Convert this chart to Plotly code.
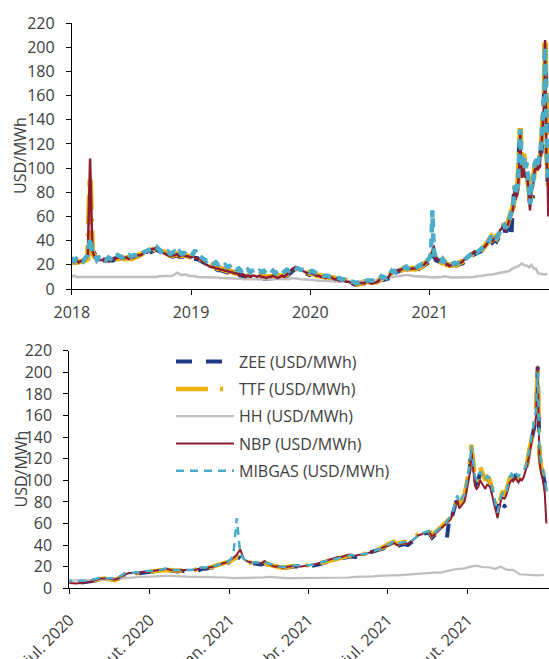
import pandas as pd
import plotly.graph_objects as go

# ---------------- date grids ----------------
dates_a = pd.date_range("2018-01-01", "2020-06-29", freq="7D")      # weekly
dates_b = pd.date_range("2020-07-01", periods=107, freq="4D")       # every 4 days
dates_c = pd.date_range("2021-09-01", "2021-12-30", freq="2D")      # every 2 days
gas_dates = list(dates_a) + list(dates_b) + list(dates_c)
hh_dates = list(pd.date_range("2018-01-01", periods=209, freq="7D"))

# ---------------- TTF ----------------
ttf_2018 = [22,22,23,22,22, 23,24,25,93, 30,27,25,24, 24,25,24,23,24, 25,26,25,26, 26,25,26,26,
            25,26,27,27,28, 29,30,31,32, 32,33,34,33, 32,30,29,28,28, 28,29,29,28, 28,29,28,27,27]
ttf_2019 = [27,26,26,25, 24,22,21,20, 19,18,18,17, 17,16,16,15,15, 14,14,13,13, 12,12,11,11,
            11,11,12,11,11, 11,10,10,10, 11,11,10,10,11, 11,11,12,14, 16,17,17,17, 16,15,14,14,13]
ttf_2020a = [13,12,12,11, 11,10,10,10, 10,9,9,8,8, 8,7,7,6, 6,5,5,4, 5,5,6,6,6]
ttf_b = [5.5,5,5,5.5,5.5,6,6.5,7,
         8,9,9,8.5,8,7.5,9,11,
         13,14,14,13.5,14,15,15,
         15,15.5,16,16.5,17,17.5,17,16.5,
         16,16.5,17,16.5,16.5,17,18,18.5,
         18,19,19.5,20,21,22,23,
         25,27,29,28,25,24,24,23,
         23,22,24,22,21,20,20,
         19,19.5,20,20.5,21,20,20.5,21,
         21,21.5,22,23,24,25,26,
         27,28,28.5,29,30,30,29.5,30.5,
         31,32,33,34,35,36,38,40,
         42,43,41,42,43,42,44,
         47,50,51,53,54,49,52,55]
ttf_c = [57,58,60,62,63,65,68,73,80,85,78,80,84,86,94,
         104,112,133,115,102,98,100,112,108,104,100,103,102,98,90,84,
         78,74,80,86,90,88,90,96,102,104,103,106,104,101,104,
         104,106,110,116,126,134,140,150,162,204,125,112,108,100,84]

# ---------------- NBP ----------------
nbp_2018 = [23,22,24,22,23, 24,25,27,108, 32,26,25,24, 24,24,25,23,24, 25,25,26,26, 25,26,26,25,
            26,26,27,28,28, 29,30,30,32, 33,33,34,32, 31,30,29,28,27, 28,28,29,27, 28,28,27,27,26]
nbp_2019 = [27,26,25,25, 23,22,20,19, 18,18,17,17, 16,16,15,15,14, 14,13,13,12, 11,12,10,11,
            10,11,11,10,11, 10,10,9,10, 10,11,10,9,10, 11,10,12,14, 15,17,18,17, 16,15,14,13,13]
nbp_2020a = [13,12,11,11, 10,10,9,10, 10,9,8,8,7, 7,7,6,6, 5,4,4,4, 5,5,5,6,6]
nbp_b = [5,4.5,4.5,5,5,5.5,6,7,
         8,9,9,9,8.5,8,9,11,
         13,14,14.5,14,14,15,15,
         15,16,16.5,17,17.5,18,17,16.5,
         16.5,17,17,17,16.5,17,18,19,
         18.5,19,20,20.5,22,23,24,
         26,28,31,36,27,25,24,24,
         24,23,25,23,21,20,20.5,
         19,19.5,20,20,21,20,20.5,21.5,
         21.5,22,22.5,24,25,26,26.5,
         27.5,29,29,30,31,31,30,31,
         31,32,33,34,35,36,38,39,
         40,42,40,41,42,41,43,
         46,49,50,52,53,48,51,54]
nbp_c = [56,57,59,61,62,64,67,72,78,82,74,76,79,80,88,
         98,106,128,108,95,92,94,100,97,95,92,96,95,93,84,78,
         72,65,74,82,84,83,86,92,98,100,99,102,100,98,101,
         100,103,108,114,122,132,142,152,158,206,118,106,100,90,60]

# ---------------- MIBGAS ----------------
mib_2018 = [26,23,25,24,25, 23,26,28,42, 30,29,24,26, 25,26,24,26,25, 27,26,28,27, 26,28,27,28,
            27,28,28,29,29, 30,31,32,33, 33,34,35,33, 31,32,30,31,29, 30,31,29,31, 29,30,29,28,30]
mib_2019 = [29,32,28,27, 26,25,23,24, 22,21,22,20, 21,19,20,18,19, 17,18,16,17, 15,16,14,16,
            14,15,16,14,15, 14,15,13,14, 13,15,13,14,15, 13,15,16,15, 16,18,17,17, 16,16,15,15,14]
mib_2020a = [15,14,13,12, 12,11,11,11, 10,10,9,9,9, 8,8,7,7, 6,6,5,5, 6,6,6,7,7]
mib_b = [7,6.5,7,6.5,7,7,7.5,8,
         9,10.5,10,9,9.5,9,10,12,
         14,15,14,15,14.5,15,16,
         16,16,17,17,18,18.5,17,17,
         17,17,18,17,17,18,19,19.5,
         19,20.5,20,21,22,23,24,
         26,30,65,32,27,25,24,24,
         24,23,24.5,23,22,21,20.5,
         20,20,21,21,21.5,21,21,21.5,
         21.5,22,23,24,24.5,25.5,26,
         27,28,29,29.5,30,31,30,31,
         31.5,32,33,34,35,36,37.5,40,
         41,44,41.5,42,43,42,44,
         46,49,51,52,53,50,52,55]
mib_c = [57,58,60,62,64,66,69,74,82,86,79,81,85,86,96,
         105,114,132,118,104,100,102,108,106,103,100,104,103,100,92,86,
         76,70,78,85,88,86,89,95,103,106,104,108,106,103,107,
         108,110,112,118,126,136,145,155,165,200,132,114,110,104,90]

# ---------------- ZEE ----------------
zee_2018 = [22,22,23,22,22, 23,25,27,35, 31,27,25,24, 24,24,24,23,23, 24,25,25,25, 25,25,25,25,
            25,26,27,27,27, 28,29,30,31, 32,32,33,32, 31,29,28,28,27, 27,28,28,27, 27,28,27,26,26]
zee_2019 = [26,25,25,24, 23,21,20,19, 18,17,17,16, 16,15,15,14,14, 13,13,12,12, 11,11,10,10,
            10,10,11,10,10, 10,9,9,9, 10,10,9,9,10, 10,10,11,13, 15,16,17,16, 15,14,14,13,12]
zee_2020a = [13,12,11,11, 10,10,10,9, 9,9,8,8,7, 7,7,6,6, 5,5,4,4, 5,5,5,6,6]
zee_b = [5.5,5,5,5,5.5,6,6.5,7,
         8,8.5,8.5,8,8,8,9,11,
         13,13.5,14,13.5,14,14.5,15,
         15,15.5,16,16,17,17,16.5,16,
         15.5,16,16,15,14.5,15,17,18,
         18,18.5,19,19.5,20.5,21.5,22.5,
         25,27,29,28,25,24,23.5,23,
         23,22,23,22,20.5,19.5,19.5,
         19,19,19.5,20,20.5,20,20,20.5,
         20.5,21,21.5,22.5,23.5,24.5,25,
         26.5,27.5,28,28.5,29,29.5,29,30,
         30.5,31.5,32.5,33.5,34.5,35.5,37,39,
         40,41,39,40,41,40,42,
         45,48,49,51,52,47,50,53]
zee_c = [56,57,None,47,60,None,67,72,79,84,77,79,83,85,93,
         102,110,131,114,101,97,99,108,105,102,99,101,100,97,89,83,
         77,72,78,None,77,76,77,None,101,103,102,104,103,100,103,
         103,105,109,115,125,133,139,149,160,205,128,110,106,98,82]

# ---------------- HH ----------------
hh_2018 = [10,11,10,10,10, 10,9.5,9.5,9.5, 9.5,9.5,9.5,9.5, 9.5,9.5,9.5,9.5,9.5, 10,10,10,10,
           10,10,10,10, 10,10,9.5,9.5,9.5, 10,10,10,10, 10,10,10,10.5, 10.5,11,11,11,11,
           11,12,13.5,12.5, 11.5,12,12,11,11]
hh_2019 = [10.5,10.5,10,10, 9.5,9.5,9.5,9.5, 9.5,9.5,9.5,9.5, 9,9,9,8.5,8.5, 8.5,8.5,8.5,8.5,
           8.5,8,8,8, 8,8,8,8,7.5, 7.5,7.5,7.5,7.5, 8,8,8.5,8.5,8, 8,8,8,8, 9,9,9,8.5,
           8,8,7.5,7.5,7.5]
hh_2020 = [7.5,7.5,7,7, 7,6.5,6.5,6.5, 6.5,6.5,6,6,6, 6,6,6.5,6.5, 6.5,6.5,6.5,6.5,
           6.5,6.5,6.5,6.5,7, 7,7,7.5,7.5, 7.5,8,8.5,9,9.5, 10,10.5,10.5,10.5, 11,11,11.5,11.5,
           11,10.5,10.5,10.5,10.5, 10.5,10,10,10]
hh_2021 = [9.5,9.5,9.5,9.5, 10,10,10.5,10, 9.5,9.5,9.5,9.5,9.5, 9.5,9.5,10,10,
           10,10,10,10.5,10.5, 11,11,11.5,12, 12,12,12.5,13, 13.5,13.5,14,14.5,14.5,
           16,17,18,18.5, 20,21,19.5,19.5, 18,20,17,17,13, 12.5,12.5,12,12.5]

ttf = ttf_2018 + ttf_2019 + ttf_2020a + ttf_b + ttf_c
nbp = nbp_2018 + nbp_2019 + nbp_2020a + nbp_b + nbp_c
mib = mib_2018 + mib_2019 + mib_2020a + mib_b + mib_c
zee = zee_2018 + zee_2019 + zee_2020a + zee_b + zee_c
hh = hh_2018 + hh_2019 + hh_2020 + hh_2021
for s in (ttf, nbp, mib, zee):
    assert len(s) == len(gas_dates), (len(s), len(gas_dates))
assert len(hh) == len(hh_dates), (len(hh), len(hh_dates))

names = ["ZEE (USD/MWh)", "TTF (USD/MWh)", "HH (USD/MWh)", "NBP (USD/MWh)", "MIBGAS (USD/MWh)"]
xs = [gas_dates, gas_dates, hh_dates, gas_dates, gas_dates]
ys = [zee, ttf, hh, nbp, mib]
colors = ["#1F3B87", "#EDB10F", "#BFBFBF", "#8E1D2F", "#4AADC9"]
top_style = [(5, "14px,10px"), (5.5, "30px,9px,3px,9px"), (2.5, "solid"), (2.5, "solid"), (4.5, "9px,6px")]
bot_style = [(4, "16px,14px"), (4.5, "32px,12px,3px,12px"), (2.2, "solid"), (2, "solid"), (2.5, "8px,6px")]

top_ticks = ["2018-01-01", "2019-01-01", "2020-01-01", "2021-01-01"]
top_labels = ["2018", "2019", "2020", "2021"]
bot_ticks = ["2020-07-01", "2020-10-01", "2021-01-01", "2021-04-01", "2021-07-01", "2021-10-01"]
bot_labels = ["jul. 2020", "out. 2020", "jan. 2021", "abr. 2021", "jul. 2021", "out. 2021"]
y_ticks = list(range(0, 221, 20))

W, H = 549, 659

fig = go.Figure()
for i in range(5):
    w, d = top_style[i]
    fig.add_trace(go.Scatter(x=xs[i], y=ys[i], name=names[i], mode="lines",
                             line=dict(color=colors[i], width=w, dash=d),
                             showlegend=False, xaxis="x", yaxis="y"))
for i in range(5):
    w, d = bot_style[i]
    fig.add_trace(go.Scatter(x=xs[i], y=ys[i], name=names[i], mode="lines",
                             line=dict(color=colors[i], width=w, dash=d),
                             legendgroup=str(i), showlegend=True, xaxis="x2", yaxis="y2"))

axis_common = dict(showline=True, linecolor="black", linewidth=1, ticks="outside", ticklen=5,
                   tickcolor="black", showgrid=False, zeroline=False, automargin=False)

top_dom = [(H - 289) / H, (H - 23) / H]
bot_dom = [(H - 588.3) / H, (H - 350.7) / H]

fig.update_layout(
    width=W, height=H, margin=dict(l=0, r=0, t=0, b=0),
    plot_bgcolor="white", paper_bgcolor="white",
    font=dict(family="Open Sans", size=16, color="#404040"),
    xaxis=dict(domain=[71.8 / W, 1], range=["2018-01-01", "2022-01-01"], tickvals=top_ticks,
               ticktext=top_labels, tickangle=0, anchor="y", ticklabelstandoff=4, **axis_common),
    yaxis=dict(domain=top_dom, range=[0, 220], tickvals=y_ticks, anchor="x",
               ticklabelstandoff=8, **axis_common),
    xaxis2=dict(domain=[69.3 / W, 1], range=["2020-07-01", "2022-01-02"], tickvals=bot_ticks,
                ticktext=bot_labels, tickangle=-45, anchor="y2", ticklabelstandoff=10,
                **axis_common),
    yaxis2=dict(domain=bot_dom, range=[0, 220], tickvals=y_ticks, anchor="x2",
                ticklabelstandoff=8, **axis_common),
    legend=dict(x=171 / W, y=1 - 344.7 / H, xanchor="left", yanchor="top",
                bgcolor="rgba(0,0,0,0)", tracegroupgap=3.5, itemwidth=58,
                font=dict(size=16, color="#404040")),
    annotations=[
        dict(text="USD/MWh", textangle=-90, x=20 / W, y=sum(top_dom) / 2, xref="paper",
             yref="paper", showarrow=False, xanchor="center", yanchor="middle"),
        dict(text="USD/MWh", textangle=-90, x=20 / W, y=sum(bot_dom) / 2, xref="paper",
             yref="paper", showarrow=False, xanchor="center", yanchor="middle"),
    ],
)
fig.write_html("out.html", config={"displayModeBar": False},
               post_script="document.body.style.margin='0';document.body.style.overflow='hidden';")
